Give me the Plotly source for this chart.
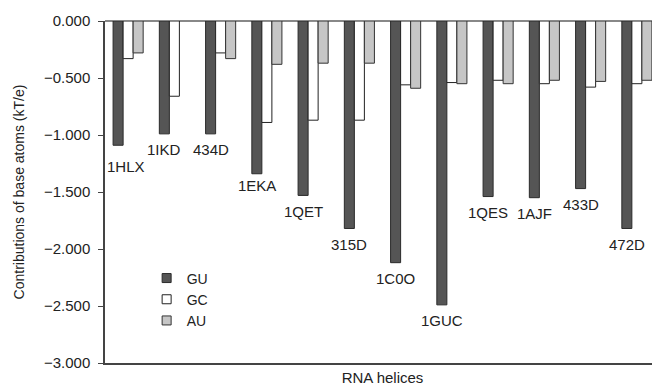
import plotly.graph_objects as go

helices = ["1HLX", "1IKD", "434D", "1EKA", "1QET", "315D", "1C0O", "1GUC", "1QES", "1AJF", "433D", "472D"]
gu = [-1.09, -0.99, -0.99, -1.34, -1.53, -1.82, -2.12, -2.49, -1.54, -1.55, -1.47, -1.82]
gc = [-0.33, -0.66, -0.28, -0.89, -0.87, -0.87, -0.56, -0.54, -0.52, -0.55, -0.58, -0.55]
au = [-0.28, None, -0.33, -0.38, -0.37, -0.37, -0.59, -0.55, -0.55, -0.52, -0.53, -0.52]
y_ticks = [0, -0.5, -1.0, -1.5, -2.0, -2.5, -3.0]
y_tick_text = ["0.000", "\u22120.500", "\u22121.000", "\u22121.500", "\u22122.000", "\u22122.500", "\u22123.000"]

FONT = "Liberation Sans, Arial, sans-serif"
TXT = "#222222"

series = [
    ("GU", gu, "#555555", "#2a2a2a"),
    ("GC", gc, "#ffffff", "#222222"),
    ("AU", au, "#c6c6c6", "#333333"),
]

fig = go.Figure()
for name, vals, fill, edge in series:
    fig.add_trace(go.Bar(name=name, x=helices, y=vals, showlegend=False,
                         marker=dict(color=fill, line=dict(color=edge, width=1))))
for name, vals, fill, edge in series:
    fig.add_trace(go.Scatter(name=name, x=[None], y=[None], mode="markers",
                             marker=dict(symbol="square", size=9, color=fill, line=dict(color=edge, width=1))))

special = {"1HLX": (8, -21), "1EKA": (0, -12)}
for name, v in zip(helices, gu):
    xs, ys = special.get(name, (0, -16))
    fig.add_annotation(x=name, y=v, text=name, showarrow=False, xshift=-10 + xs, yshift=ys,
                       yanchor="middle", font=dict(family=FONT, size=15, color=TXT))

fig.update_layout(
    width=652, height=378,
    margin=dict(l=97, r=0, t=13, b=23),
    paper_bgcolor="white", plot_bgcolor="white",
    barmode="group", bargap=0.35, bargroupgap=0,
    font=dict(family=FONT, size=15, color=TXT),
    showlegend=True,
    legend=dict(x=0.075, y=0.294, xanchor="left", yanchor="top", bgcolor="rgba(0,0,0,0)",
                font=dict(family=FONT, size=14, color=TXT), itemwidth=30, tracegroupgap=0),
    xaxis=dict(showticklabels=False, ticks="", showgrid=False, showline=True, linecolor="#444444", linewidth=1.5,
               automargin=False,
               title=dict(text="RNA helices", font=dict(family=FONT, size=15, color=TXT), standoff=14)),
    yaxis=dict(range=[-3, 0], tickvals=y_ticks, ticktext=y_tick_text, ticks="outside", ticklen=5,
               tickcolor="#444444", showgrid=False, showline=True, linecolor="#444444", linewidth=1.5,
               zeroline=True, zerolinecolor="#888888", zerolinewidth=1.5, automargin=False,
               ticklabelstandoff=5,
               tickfont=dict(family=FONT, size=15, color=TXT),
               title=dict(text="Contributions of base atoms (kT/e)", font=dict(family=FONT, size=14, color=TXT), standoff=16)),
)

fig.write_html("out.html")
